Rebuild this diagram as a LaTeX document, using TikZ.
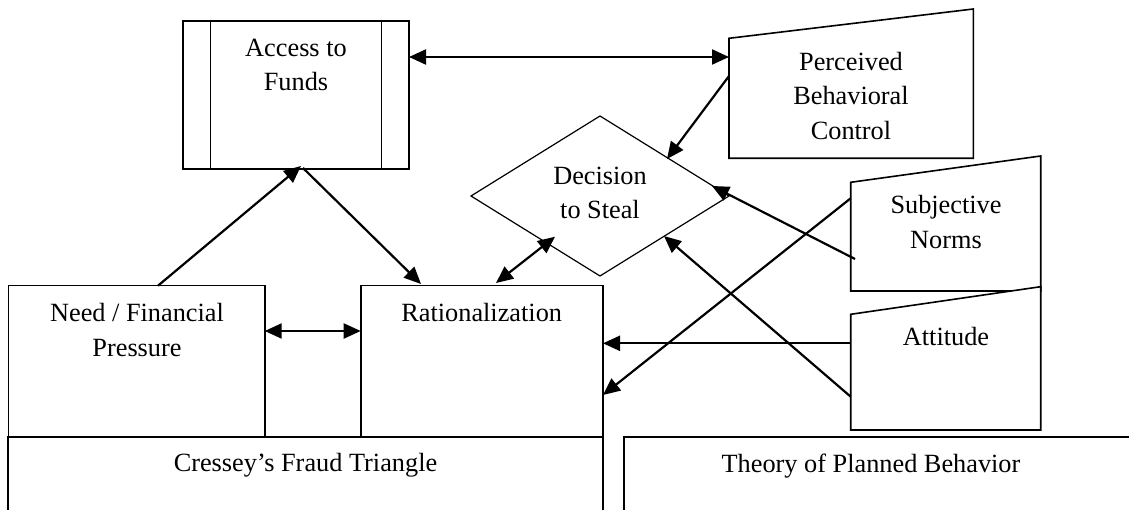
\documentclass[tikz,border=0pt]{standalone}
\usepackage{fontspec}
\setmainfont{Liberation Serif}
\usetikzlibrary{arrows.meta,shapes.geometric}
\begin{document}
\begin{tikzpicture}[x=1pt,y=-1pt,
  every node/.style={inner sep=0pt, outer sep=0pt},
  frame/.style={draw, rectangle, line width=1.6pt},
  base/.style={draw, rectangle, line width=2.2pt},
  manual/.style={draw, line width=1.6pt, line join=miter},
  txt/.style={font=\fontsize{26.3}{34.5}\selectfont, align=center, anchor=north},
  tip/.tip={Triangle[length=17pt,width=15pt]},
  link/.style={line width=2.2pt, -tip},
  biLink/.style={line width=2.2pt, tip-tip}
]
\useasboundingbox (0,0) rectangle (1129,510);
\clip (0,0) rectangle (1129,510);

% Cressey's fraud triangle
\node[frame, minimum width=226.3pt, minimum height=148.3pt] (access) at (295.85,95.15) {};
\draw[line width=1.4pt] (210.3,21) -- (210.3,169.3);
\draw[line width=1.4pt] (381.7,21) -- (381.7,169.3);
\node[txt] (accessText) at (296,39) {Access to\\Funds};

\node[frame, minimum width=256.4pt, minimum height=151pt] (need) at (136.5,361.2) {};
\node[txt] (needText) at (137,303.7) {Need / Financial\\Pressure};

\node[frame, minimum width=242pt, minimum height=151pt] (ratio) at (481.7,361.2) {};
\node[txt] (ratioText) at (481.7,303.7) {Rationalization};

\node[base, minimum width=594.4pt, minimum height=123.3pt] (cressey) at (305.5,498.35) {};
\node[txt] (cresseyText) at (305.5,453.7) {Cressey’s Fraud Triangle};

% Theory of planned behavior
\node[base, minimum width=536pt, minimum height=123.3pt] (tpb) at (892,498.35) {};
\node[txt] (tpbText) at (871,453.7) {Theory of Planned Behavior};

\draw[manual] (729,38.3) -- (973.3,9) -- (973.3,158.3) -- (729,158.3) -- cycle;
\node[txt] (pbcText) at (851,52) {Perceived\\Behavioral\\Control};

\draw[manual] (850.7,182.3) -- (1040.7,156) -- (1040.7,291) -- (850.7,291) -- cycle;
\node[txt] (normsText) at (946,195.3) {Subjective\\Norms};

\draw[manual, fill=white] (850.7,314.3) -- (1040.7,286.7) -- (1040.7,430) -- (850.7,430) -- cycle;
\node[txt] (attText) at (946,327.7) {Attitude};

% Decision
\node[draw, diamond, line width=1.2pt, minimum width=258pt, minimum height=160pt] (decision) at (600,196) {};
\node[txt] (decisionText) at (600,167) {Decision\\to Steal};

% connector end points
\coordinate (accR) at (409,57);
\coordinate (pbcL) at (729,57);
\coordinate (pbcL2) at (729,76);
\coordinate (decNE) at (667,159);
\coordinate (normA) at (855,259);
\coordinate (decE) at (712,186);
\coordinate (normB) at (850.7,198.3);
\coordinate (ratR2) at (603,395);
\coordinate (attA) at (850.7,343.3);
\coordinate (ratR1) at (603,343.3);
\coordinate (attB) at (850.7,396.7);
\coordinate (decSE) at (664,236);
\coordinate (decSW) at (555,236.7);
\coordinate (ratT1) at (496,283);
\coordinate (needT) at (158,285.7);
\coordinate (accB1) at (301,166);
\coordinate (accB2) at (303,168);
\coordinate (ratT2) at (421,284);
\coordinate (needR) at (264.7,331);
\coordinate (ratL) at (360.7,331);

% connectors
\draw[biLink] (accR) -- (pbcL);
\draw[link] (pbcL2) -- (decNE);
\draw[link] (normA) -- (decE);
\draw[link] (normB) -- (ratR2);
\draw[link] (attA) -- (ratR1);
\draw[link] (attB) -- (decSE);
\draw[biLink] (decSW) -- (ratT1);
\draw[link] (needT) -- (accB1);
\draw[link] (accB2) -- (ratT2);
\draw[biLink] (needR) -- (ratL);
\end{tikzpicture}
\end{document}
